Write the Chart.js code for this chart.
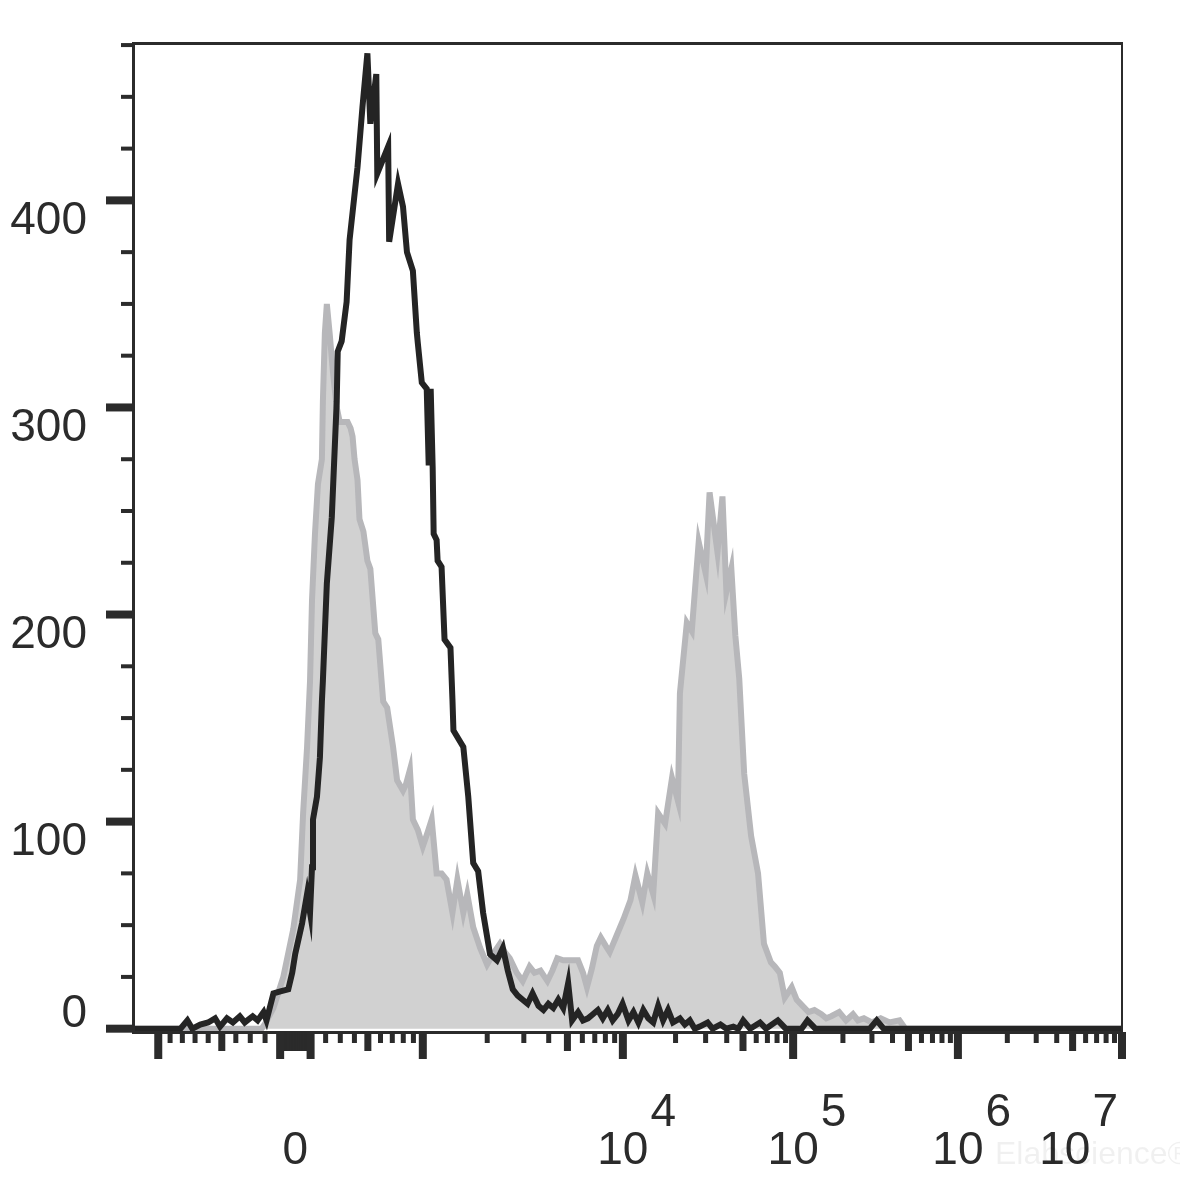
<!DOCTYPE html>
<html>
<head>
<meta charset="utf-8">
<script src="https://cdn.jsdelivr.net/npm/chart.js@4/dist/chart.umd.min.js"></script>
<style>
  html, body { margin: 0; padding: 0; background: #fff; }
  canvas { display: block; }
</style>
</head>
<body>
<canvas id="histo" width="1180" height="1182"></canvas>
<script>
// histogram bins on a 0..1000 logicle display (channel) axis
const BLACK_CH = [0, 48, 55, 60, 68, 76, 83, 88, 95, 101, 108, 113, 121, 126, 132, 135, 142, 149, 157, 161, 164,
  171, 176, 179, 181, 182, 186, 189, 191, 192, 196, 201, 206, 207, 211, 216, 219, 227, 232, 237, 240, 246, 247,
  258, 259, 268, 273, 277, 283, 287, 288, 292, 297, 299, 301, 303, 304, 307, 308, 312, 315, 321, 323, 324, 329,
  334, 339, 344, 349, 354, 361, 368, 374, 379, 384, 389, 394, 399, 404, 410, 415, 420, 425, 430, 435, 440, 444,
  450, 455, 460, 465, 470, 475, 480, 485, 490, 495, 501, 506, 511, 516, 521, 526, 531, 536, 541, 546, 553, 558,
  563, 568, 573, 581, 586, 594, 600, 607, 612, 617, 624, 634, 640, 652, 660, 676, 682, 690, 745, 752, 759, 1000];
const BLACK_COUNT = [0, 0, 4, 0, 2, 3, 5, 1, 5, 3, 6, 3, 6, 4, 8, 4, 17, 18, 19, 27, 36,
  51, 65, 56, 78, 101, 112, 131, 158, 168, 215, 247, 303, 327, 332, 351, 381, 416, 445, 471, 437, 461, 413,
  426, 380, 408, 397, 375, 366, 336, 331, 312, 309, 272, 309, 271, 239, 236, 226, 223, 188, 184, 159, 144, 140,
  136, 112, 80, 76, 56, 36, 33, 39, 28, 19, 16, 14, 12, 17, 11, 9, 12, 10, 14, 10, 22, 4,
  8, 4, 5, 7, 9, 5, 9, 4, 7, 12, 4, 8, 3, 9, 5, 3, 11, 4, 9, 3, 5, 2,
  4, 0, 1, 3, 0, 2, 0, 1, 0, 4, 0, 3, 0, 4, 0, 0, 4, 0, 0, 4, 0, 0];

const GRAY_CH = [0, 130, 133, 142, 152, 162, 169, 172, 176, 179, 181, 184, 187, 191, 192, 194, 196, 199, 202,
  206, 209, 217, 220, 222, 224, 227, 229, 233, 237, 240, 245, 248, 253, 257, 263, 267, 273, 276, 280, 283, 288,
  293, 298, 302, 307, 312, 317, 323, 328, 334, 338, 344, 351, 358, 364, 371, 376, 381, 388, 394, 401, 406, 412,
  419, 424, 429, 435, 442, 450, 455, 459, 464, 469, 473, 478, 482, 489, 496, 503, 508, 515, 520, 526, 531, 538,
  545, 551, 553, 560, 565, 572, 579, 583, 591, 596, 600, 605, 609, 613, 618, 625, 632, 638, 645, 649, 654, 659,
  666, 671, 677, 683, 689, 696, 701, 706, 714, 721, 728, 733, 739, 747, 756, 765, 775, 781, 1000];
const GRAY_COUNT = [0, 0, 2, 10, 25, 48, 72, 104, 136, 168, 207, 239, 263, 275, 303, 336, 350, 335, 318,
  300, 293, 293, 290, 286, 275, 265, 246, 240, 226, 222, 191, 188, 158, 155, 136, 120, 115, 118, 125, 101, 96,
  88, 95, 101, 75, 75, 72, 56, 72, 56, 65, 49, 39, 31, 36, 41, 37, 34, 27, 23, 30, 27, 28,
  23, 28, 34, 33, 33, 33, 27, 20, 29, 40, 44, 40, 37, 45, 53, 62, 74, 61, 75, 65, 104, 99,
  121, 110, 162, 196, 192, 235, 220, 259, 230, 257, 211, 222, 190, 169, 123, 93, 75, 41, 32, 30, 27, 15,
  20, 14, 11, 8, 9, 7, 5, 6, 8, 4, 7, 4, 5, 3, 5, 3, 4, 0, 0];

// axis values
const Y_MAJOR = [0, 100, 200, 300, 400];
const Y_MINOR_STEP = 25;
const Y_MIN = -1.6;
const Y_MAX = 476;
const X_LABEL_VALUES = [0, 1e4, 1e5, 1e6, 1e7];
const X_LABEL_EXP = ["", "4", "5", "6", "7"];
const X_DECADES = [10, 100, 1000, 1e4, 1e5, 1e6];
const X_NEG_DECADES = [10, 100];
const X_TOP = 1e7;
const CHANNEL_MAX = 1000;

// logicle transform parameters
const LOGICLE_T = X_TOP, LOGICLE_W = 0.99, LOGICLE_M = 6.03, LOGICLE_A = 0;

const INK = "#2b2b2b";
const FONT = '46px "Liberation Sans", Arial, sans-serif';

function makeLogicle(T, W, M, A) {
  const w = W / (M + A);
  const x2 = A / (M + A);
  const x1 = x2 + w;
  const x0 = x2 + 2 * w;
  const b = (M + A) * Math.LN10;
  let lo = 1e-9, hi = b;
  for (let i = 0; i < 200; i++) {
    const mid = (lo + hi) / 2;
    const f = 2 * (Math.log(mid) - Math.log(b)) + w * (b + mid);
    if (f > 0) hi = mid; else lo = mid;
  }
  const d = (lo + hi) / 2;
  const ca = Math.exp(x0 * (b + d));
  const mfa = Math.exp(b * x1) - ca / Math.exp(d * x1);
  const a = T / ((Math.exp(b) - mfa) - ca / Math.exp(d));
  const c = ca * a;
  const f = -mfa * a;
  const B = (y) => a * Math.exp(b * y) - c * Math.exp(-d * y) + f;
  return (v) => {
    let l = -1, h = 1.2;
    for (let i = 0; i < 80; i++) {
      const m = (l + h) / 2;
      if (B(m) > v) h = m; else l = m;
    }
    return (l + h) / 2;
  };
}

const logicle = makeLogicle(LOGICLE_T, LOGICLE_W, LOGICLE_M, LOGICLE_A);
const toChannel = (v) => CHANNEL_MAX * logicle(v);

function tickKind(dec, k) {
  if (dec === 10) return "mid";
  if (k === 1) return "long";
  if (k === 5) return "mid";
  return "short";
}

function xTicks() {
  const list = [];
  X_DECADES.forEach((dec) => {
    for (let k = 1; k <= 9; k++) list.push({ value: k * dec, kind: tickKind(dec, k) });
  });
  list.push({ value: X_TOP, kind: "long" });
  X_NEG_DECADES.forEach((dec) => {
    for (let k = 1; k <= 9; k++) list.push({ value: -k * dec, kind: tickKind(dec, k) });
  });
  list.push({ value: -1000, kind: "long" });
  return list;
}

const frameAndAxes = {
  id: "frameAndAxes",
  afterDatasetsDraw(chart) {
    const { ctx, chartArea: area, scales } = chart;
    const xs = scales.x;
    const ys = scales.y;
    ctx.save();
    ctx.fillStyle = INK;

    // frame
    ctx.fillRect(area.left - 1, area.top - 1, area.right - area.left + 2, 3);
    ctx.fillRect(area.left - 1, area.top - 1, 3, area.bottom - area.top + 2);
    ctx.fillRect(area.right - 1, area.top - 1, 2, area.bottom - area.top);
    ctx.fillRect(area.left - 1, area.bottom - 1, area.right - area.left + 2, 3);

    // y ticks
    for (let v = Y_MINOR_STEP; v <= Y_MAX; v += Y_MINOR_STEP) {
      if (v % 100 === 0) continue;
      const py = ys.getPixelForValue(v);
      ctx.fillRect(area.left - 12, py - 2, 12, 4);
    }
    ctx.font = FONT;
    ctx.textAlign = "right";
    ctx.textBaseline = "alphabetic";
    Y_MAJOR.forEach((v) => {
      const py = ys.getPixelForValue(v);
      ctx.fillRect(area.left - 27, py - 4, 27, 8);
      const center = Math.min(py + 17, area.bottom - 22);
      ctx.fillText(String(v), 87, center + 16.5);
    });

    // x ticks
    const len = { short: 11, mid: 19, long: 27 };
    const wid = { short: 5, mid: 7, long: 8 };
    xTicks().forEach((t) => {
      const px = xs.getPixelForValue(toChannel(t.value));
      ctx.fillRect(px - wid[t.kind] / 2, area.bottom, wid[t.kind], len[t.kind]);
    });

    // x labels
    const base = 1164;
    ctx.textAlign = "left";
    X_LABEL_VALUES.forEach((v, i) => {
      const px = xs.getPixelForValue(toChannel(v));
      const exp = X_LABEL_EXP[i];
      if (!exp) {
        ctx.textAlign = "center";
        ctx.fillText("0", px, base);
        ctx.textAlign = "left";
        return;
      }
      const baseW = ctx.measureText("10").width;
      const expW = ctx.measureText(exp).width;
      let left = px - baseW / 2;
      const right = left + baseW + 2 + expW;
      if (right > area.right - 4) left -= right - (area.right - 4);
      ctx.fillText("10", left, base);
      ctx.fillText(exp, left + baseW + 2, base - 38);
    });

    // watermark
    ctx.font = '32px "Liberation Sans", Arial, sans-serif';
    ctx.fillStyle = "rgba(0,0,0,0.06)";
    ctx.fillText("Elabscience\u00AE", 995, 1164);
    ctx.restore();
  },
};

const toPoints = (xsArr, ysArr) => xsArr.map((x, i) => ({ x, y: ysArr[i] }));

new Chart(document.getElementById("histo"), {
  type: "line",
  data: {
    datasets: [
      {
        label: "stained",
        data: toPoints(BLACK_CH, BLACK_COUNT),
        borderColor: "#242424",
        borderWidth: 6,
        borderJoinStyle: "miter",
        pointRadius: 0,
        tension: 0,
        fill: false,
        order: 0,
      },
      {
        label: "control",
        data: toPoints(GRAY_CH, GRAY_COUNT),
        borderColor: "#b7b7ba",
        backgroundColor: "#d1d1d1",
        borderWidth: 6,
        borderJoinStyle: "miter",
        pointRadius: 0,
        tension: 0,
        fill: "origin",
        order: 1,
      },
    ],
  },
  options: {
    responsive: false,
    animation: false,
    events: [],
    layout: { padding: { left: 133, right: 58, top: 43, bottom: 150 } },
    plugins: { legend: { display: false }, tooltip: { enabled: false } },
    scales: {
      x: { type: "linear", min: 0, max: CHANNEL_MAX, display: false },
      y: { type: "linear", min: Y_MIN, max: Y_MAX, display: false },
    },
  },
  plugins: [frameAndAxes],
});
</script>
</body>
</html>
